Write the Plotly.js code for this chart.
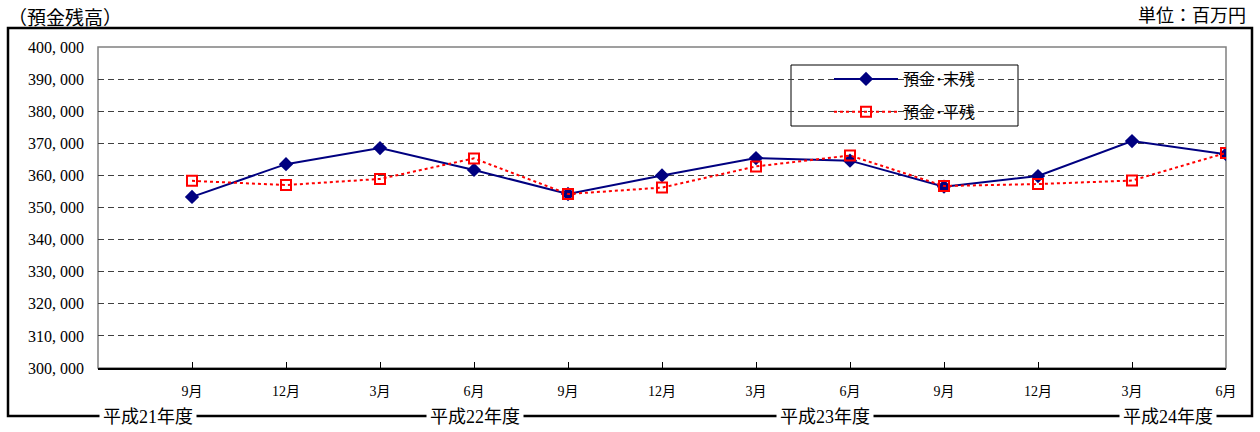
<!DOCTYPE html>
<html>
<head>
<meta charset="utf-8">
<script src="https://cdn.plot.ly/plotly-3.0.1.min.js"></script>
<style>html,body{margin:0;padding:0;background:#fff;}#chart{width:1260px;height:432px;}</style>
</head>
<body>
<div id="chart"></div>
<script>
const months = ['9月','12月','3月','6月','9月','12月','3月','6月','9月','12月','3月','6月'];
const endBalance = [353300, 363500, 368500, 361700, 354200, 360000, 365400, 364600, 356500, 359800, 370700, 366600];
const avgBalance = [358300, 357000, 358900, 365300, 354200, 356200, 362800, 366200, 356700, 357300, 358400, 367000];
const yTickVals = [300000, 310000, 320000, 330000, 340000, 350000, 360000, 370000, 380000, 390000, 400000];
const yTickText = ['300, 000','310, 000','320, 000','330, 000','340, 000','350, 000','360, 000','370, 000','380, 000','390, 000','400, 000'];
const fiscalYears = ['平成21年度','平成22年度','平成23年度','平成24年度'];
const seriesNames = ['預金･末残','預金･平残'];

const FONT = 'Liberation Serif, "Noto Sans CJK JP", serif';
const idx = months.map((_, i) => i + 1);

// pixel -> paper helpers (plot area: x 98..1226, y 47..368)
const L = 98, R = 1226, T = 47, B = 368;
const px = x => (x - L) / (R - L);
const py = y => (B - y) / (B - T);

const traces = [
  {
    x: idx, y: endBalance, name: seriesNames[0], type: 'scatter', mode: 'lines+markers',
    legendgroup: 'a',
    line: {color: '#000080', width: 2},
    marker: {symbol: 'diamond', size: 11, color: '#000080'}
  },
  {
    x: idx, y: avgBalance, name: seriesNames[1], type: 'scatter', mode: 'lines+markers',
    legendgroup: 'b',
    line: {color: '#ff0000', width: 2, dash: 'dot'},
    marker: {symbol: 'square-open', size: 10, color: '#ff0000', line: {width: 2, color: '#ff0000'}}
  }
];

const yearCenters = [148, 475, 825, 1168];
const annotations = [
  {xref: 'paper', yref: 'paper', x: px(6), y: py(16), xanchor: 'left', yanchor: 'middle',
   text: '（預金残高）', showarrow: false, font: {family: '"Noto Sans CJK JP", sans-serif', size: 19, color: '#000'}},
  {xref: 'paper', yref: 'paper', x: px(1248), y: py(16), xanchor: 'right', yanchor: 'middle',
   text: '単位：百万円', showarrow: false, font: {family: FONT, size: 18, color: '#000'}}
];
fiscalYears.forEach((t, i) => {
  annotations.push({xref: 'paper', yref: 'paper', x: px(yearCenters[i]), y: py(417), xanchor: 'center', yanchor: 'middle',
    text: t, showarrow: false, bgcolor: '#ffffff', borderpad: 3, font: {family: FONT, size: 18, color: '#000'}});
});

const shapes = [
  // outer frame
  {type: 'rect', xref: 'paper', yref: 'paper', x0: px(8), x1: px(1252), y0: py(416), y1: py(28),
   line: {color: '#000', width: 2.5}, fillcolor: 'rgba(0,0,0,0)', layer: 'below'},
  // plot area frame (top/left/right gray)
  {type: 'rect', xref: 'paper', yref: 'paper', x0: 0, x1: 1, y0: 0, y1: 1,
   line: {color: '#808080', width: 1.5}, fillcolor: 'rgba(0,0,0,0)', layer: 'below'},
  // legend box
  {type: 'rect', xref: 'paper', yref: 'paper', x0: px(791), x1: px(1018), y0: py(126), y1: py(65),
   line: {color: '#000', width: 1}, fillcolor: '#ffffff', layer: 'between'}
];

const layout = {
  width: 1260, height: 432,
  margin: {l: L, r: 1260 - R, t: T, b: 432 - B},
  paper_bgcolor: '#fff', plot_bgcolor: '#fff',
  showlegend: true,
  legend: {
    x: px(829), y: py(62), xanchor: 'left', yanchor: 'top',
    bgcolor: 'rgba(0,0,0,0)', borderwidth: 0,
    font: {family: FONT, size: 16, color: '#000'},
    itemwidth: 64, tracegroupgap: 9
  },
  xaxis: {
    range: [0, 12], tickvals: idx, ticktext: months,
    showgrid: false, zeroline: false,
    showline: true, linecolor: '#000', linewidth: 1.5,
    ticks: 'inside', ticklen: 6, tickcolor: '#000', tickwidth: 1,
    tickfont: {family: FONT, size: 14, color: '#000'},
    ticklabelstandoff: 10, fixedrange: true
  },
  yaxis: {
    range: [300000, 400000], tickvals: yTickVals, ticktext: yTickText,
    showgrid: true, gridcolor: '#404040', gridwidth: 1, griddash: '6px,4px',
    zeroline: false, showline: false, ticks: '',
    tickfont: {family: FONT, size: 16, color: '#000'},
    ticklabelstandoff: 13, fixedrange: true
  },
  annotations: annotations,
  shapes: shapes
};

Plotly.newPlot('chart', traces, layout, {displayModeBar: false, staticPlot: true});
</script>
</body>
</html>
